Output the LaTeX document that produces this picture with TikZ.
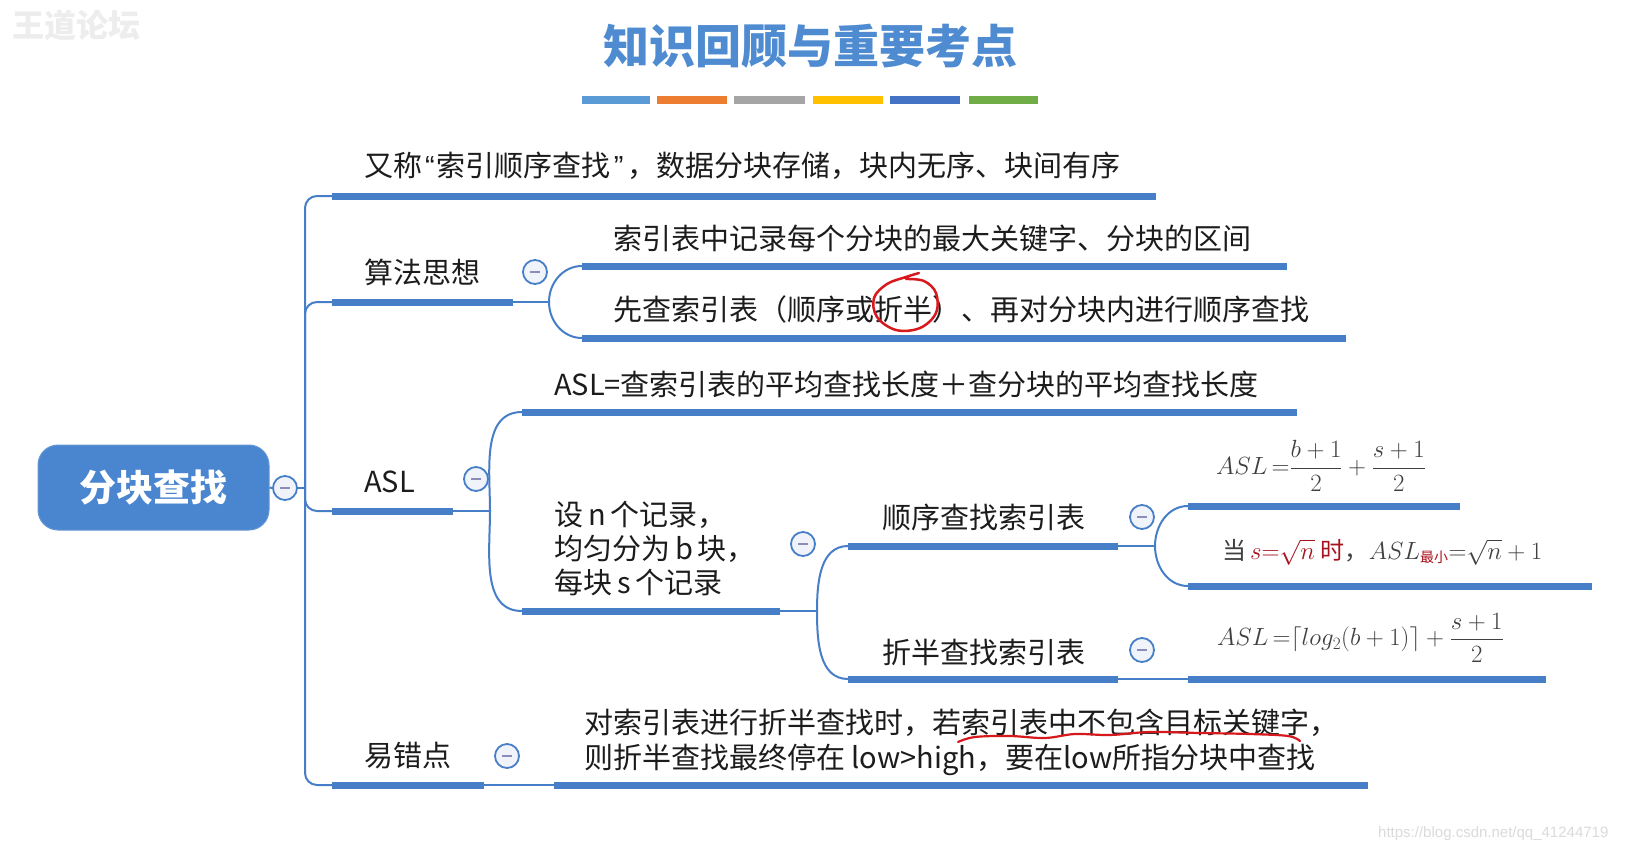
\documentclass[tikz,border=0pt]{standalone}
\usepackage{fontspec}
\usepackage{amsmath}
\setmainfont{Noto Sans CJK SC}
\newfontfamily\wmfont{Liberation Sans}
\usetikzlibrary{calc}
\definecolor{mblue}{RGB}{70,126,200}
\definecolor{rootblue}{RGB}{74,133,207}
\definecolor{titleblue}{RGB}{79,139,208}
\definecolor{inkc}{RGB}{28,28,28}
\definecolor{fgray}{RGB}{64,64,64}
\definecolor{fred}{RGB}{168,18,30}
\definecolor{pen}{RGB}{215,25,30}
\definecolor{minusc}{RGB}{140,140,185}
\definecolor{circfill}{RGB}{240,244,250}
\definecolor{bara}{RGB}{91,155,213}
\definecolor{barb}{RGB}{237,125,49}
\definecolor{barc}{RGB}{165,165,165}
\definecolor{bard}{RGB}{255,192,0}
\definecolor{bare}{RGB}{68,114,196}
\definecolor{barf}{RGB}{112,173,71}
\begin{document}
\begin{tikzpicture}[x=1pt,y=-1pt,
  bar/.style={line width=7pt, draw=mblue},
  conn/.style={line width=2pt, draw=mblue},
  lbl/.style={anchor=west, inner sep=0pt, text=inkc, font=\fontsize{29}{35}\selectfont},
  fml/.style={anchor=west, inner sep=0pt, text=fgray, font=\fontsize{24}{28}\selectfont},
  fold/.style={circle, draw=mblue, line width=1.8pt, fill=circfill, minimum size=24pt, inner sep=0pt,
    path picture={\draw[line width=2pt, minusc] ([xshift=-5pt]path picture bounding box.center) -- ([xshift=5pt]path picture bounding box.center);}},
  rootbox/.style={rounded corners=20pt, fill=rootblue, draw=rootblue!85!white, line width=1pt,
    minimum width=231pt, minimum height=85pt, inner sep=0pt, text=white, font=\fontsize{37}{40}\selectfont\bfseries},
  fork/.style={conn, rounded corners=12pt},
]
\useasboundingbox (0,0) rectangle (1630,854);
\fill[white] (0,0) rectangle (1630,854);

% watermarks
\node[anchor=west, inner sep=0pt, text=gray!14, font=\fontsize{32}{32}\selectfont\bfseries] (wm) at (12,25) {王道论坛};
\node[anchor=west, inner sep=0pt, text=gray!28, font=\wmfont\fontsize{15}{15}\selectfont] (url) at (1378,834) {https://blog.csdn.net/qq\_41244719};

% title
\node[inner sep=0pt, text=titleblue, font=\fontsize{46}{50}\selectfont\bfseries] (title) at (810,46) {知识回顾与重要考点};
\fill[bara] (582,96) rectangle (650,104);
\fill[barb] (657,96) rectangle (727,104);
\fill[barc] (734,96) rectangle (805,104);
\fill[bard] (813,96) rectangle (883,104);
\fill[bare] (890,96) rectangle (960,104);
\fill[barf] (969,96) rectangle (1038,104);

% root
\node[rootbox] (root) at (153.5,487.5) {分块查找};
\node[fold] (c0) at (285,488) {};
\coordinate (J) at (305,488);
\draw[conn] (root.east) -- (c0.west);
\draw[conn] (c0.east) -- (J);

% branch 1
\coordinate (t1L) at (332,196); \coordinate (t1R) at (1156,196);
\draw[fork] (J) |- (t1L);
\draw[bar] (t1L) -- (t1R);
\node[lbl] (t1) at (364,166) {又称\hspace{3pt}{\wmfont“}\hspace{2pt}索引顺序查找\hspace{3pt}{\wmfont”}\hspace{4pt}，数据分块存储，块内无序、块间有序};

% branch 2
\coordinate (t2L) at (332,302); \coordinate (t2R) at (513,302);
\draw[fork] (J) |- (t2L);
\draw[bar] (t2L) -- (t2R);
\node[lbl] (t2) at (364,272) {算法思想};
\node[fold] (c2) at (535,272) {};
\coordinate (F2) at (549,302);
\draw[conn] (t2R) -- (F2);
\coordinate (a1L) at (582,266); \coordinate (a1R) at (1287,266);
\coordinate (a2L) at (582,338); \coordinate (a2R) at (1346,338);
\draw[conn] (F2) to[out=90,in=180] (a1L);
\draw[conn] (F2) to[out=-90,in=180] (a2L);
\draw[bar] (a1L) -- (a1R);
\draw[bar] (a2L) -- (a2R);
\node[lbl] (a1) at (613,238) {索引表中记录每个分块的最大关键字、分块的区间};
\node[lbl] (a2) at (613,309) {先查索引表（顺序或折半）、再对分块内进行顺序查找};
\draw[pen, line width=2.5pt, line cap=round] plot[smooth, tension=0.6] coordinates
  {(919,273) (906,277) (887,284) (874,298) (877,317) (896,330) (920,328) (936,313) (936,293) (924,281) (906,279)};

% branch 3
\coordinate (t3L) at (332,511); \coordinate (t3R) at (453,511);
\draw[fork] (J) |- (t3L);
\draw[bar] (t3L) -- (t3R);
\node[lbl] (t3) at (364,482) {ASL};
\node[fold] (c3) at (476,479) {};
\coordinate (F3) at (490,511);
\draw[conn] (t3R) -- (F3);
\coordinate (b1L) at (522,412); \coordinate (b1R) at (1297,412);
\coordinate (b2L) at (522,611); \coordinate (b2R) at (780,611);
\draw[conn] (F3) to[out=90,in=180] (b1L);
\draw[conn] (F3) to[out=-90,in=180] (b2L);
\draw[bar] (b1L) -- (b1R);
\draw[bar] (b2L) -- (b2R);
\node[lbl] (b1) at (554,384) {ASL=查索引表的平均查找长度＋查分块的平均查找长度};
\node[lbl, align=left, font=\fontsize{29}{34}\selectfont] (b2) at (554,548) {设\,n\,个记录，\\均匀分为\,b\,块，\\每块\,s\,个记录};
\node[fold] (c4) at (803,544) {};
\coordinate (F4) at (817,611);
\draw[conn] (b2R) -- (F4);
\coordinate (s1L) at (848,546); \coordinate (s1R) at (1118,546);
\coordinate (s2L) at (848,679); \coordinate (s2R) at (1118,679);
\draw[conn] (F4) to[out=90,in=180] (s1L);
\draw[conn] (F4) to[out=-90,in=180] (s2L);
\draw[bar] (s1L) -- (s1R);
\draw[bar] (s2L) -- (s2R);
\node[lbl] (s1) at (882,517) {顺序查找索引表};
\node[lbl] (s2) at (882,652) {折半查找索引表};
\node[fold] (c5) at (1142,517) {};
\node[fold] (c6) at (1142,650) {};

% sequential children
\coordinate (F5) at (1155,546);
\draw[conn] (s1R) -- (F5);
\coordinate (f1L) at (1188,506); \coordinate (f1R) at (1460,506);
\coordinate (f2L) at (1188,586); \coordinate (f2R) at (1592,586);
\draw[conn] (F5) to[out=90,in=180] (f1L);
\draw[conn] (F5) to[out=-90,in=180] (f2L);
\draw[bar] (f1L) -- (f1R);
\draw[bar] (f2L) -- (f2R);
\node[fml] (m1) at (1216,466) {$ASL\,{=}\dfrac{b+1}{2}+\dfrac{s+1}{2}$};
\node[fml] (m2) at (1222,552) {当\hspace{4pt}\textcolor{fred}{$s{=}\sqrt{n}$\hspace{6pt}时}，$ASL_{\mbox{\fontsize{14}{14}\selectfont\color{fred}最小}}{=}\sqrt{n}+1$};

% binary child
\coordinate (f3L) at (1188,679); \coordinate (f3R) at (1546,679);
\draw[conn] (s2R) -- (f3L);
\draw[bar] (f3L) -- (f3R);
\node[fml] (m3) at (1217,638) {$ASL\,{=}\lceil log_2(b+1)\rceil+\dfrac{s+1}{2}$};

% branch 4
\coordinate (t4L) at (332,785); \coordinate (t4R) at (484,785);
\draw[fork] (J) |- (t4L);
\draw[bar] (t4L) -- (t4R);
\node[lbl] (t4) at (364,756) {易错点};
\node[fold] (c7) at (507,756) {};
\coordinate (e1L) at (554,785); \coordinate (e1R) at (1368,785);
\draw[conn] (t4R) -- (e1L);
\draw[bar] (e1L) -- (e1R);
\node[lbl, align=left] (e1) at (584,742.5) {对索引表进行折半查找时，若索引表中不包含目标关键字，\\则折半查找最终停在 low>high，要在low所指分块中查找};
\draw[pen, line width=2.2pt, line cap=round] plot[smooth, tension=0.6] coordinates
  {(958,742) (975,737) (1010,736) (1045,738) (1075,734) (1110,735) (1150,732) (1200,733) (1250,734) (1288,736) (1300,741)};
\end{tikzpicture}
\end{document}
